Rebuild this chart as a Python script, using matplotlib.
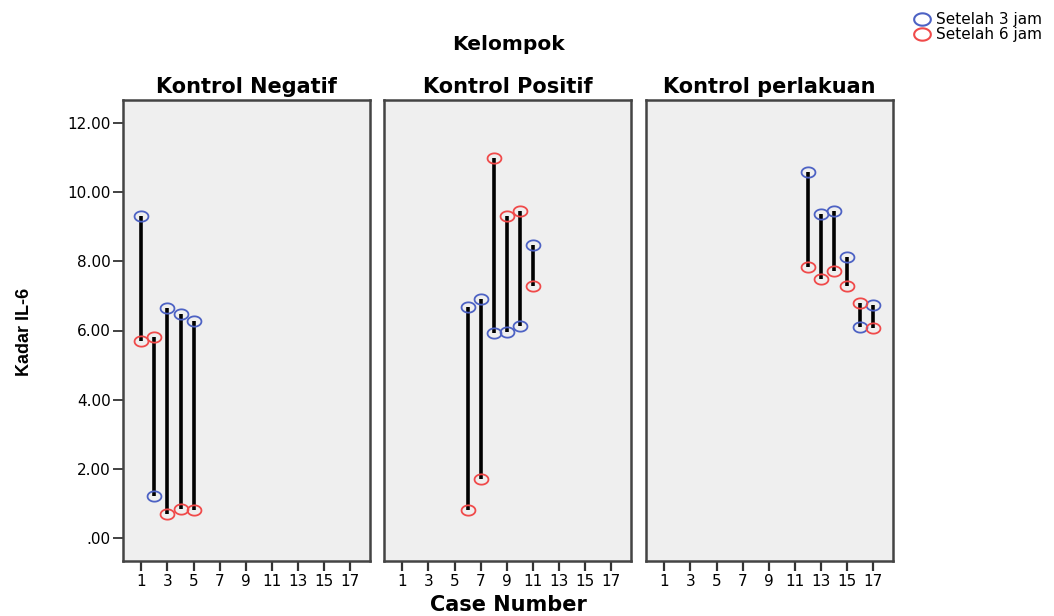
import numpy as np
import matplotlib
matplotlib.use("Agg")
import matplotlib.pyplot as plt
from matplotlib.path import Path

plt.rcParams['font.family'] = ['DejaVu Sans']

# data
groups = ['Kontrol Negatif', 'Kontrol Positif', 'Kontrol perlakuan']
cases = [[1, 2, 3, 4, 5],
         [6, 7, 8, 9, 10, 11],
         [12, 13, 14, 15, 16, 17]]
after_3h = [[9.30, 1.20, 6.66, 6.47, 6.27],
            [6.67, 6.90, 5.93, 5.95, 6.12, 8.47],
            [10.60, 9.36, 9.45, 8.12, 6.10, 6.73]]
after_6h = [[5.70, 5.80, 0.70, 0.84, 0.81],
            [0.81, 1.71, 11.00, 9.30, 9.45, 7.30],
            [7.83, 7.49, 7.72, 7.29, 6.81, 6.07]]
xticks = list(range(1, 18, 2))
yticks = [0, 2, 4, 6, 8, 10, 12]

blue = '#4d62c4'
red = '#f04a4a'

# ellipse-shaped open marker, like SPSS
t = np.linspace(0, 2 * np.pi, 60)
ell = Path(np.column_stack([1.35 * np.cos(t), np.sin(t)]), closed=True)

fig = plt.figure(figsize=(10.54, 6.16), dpi=100)
W, H = 1054, 616
lefts = [123, 384, 646]
pw = 247
top, bottom = 100, 561

for i, g in enumerate(groups):
    ax = fig.add_axes([lefts[i] / W, 1 - bottom / H, pw / W, (bottom - top) / H])
    ax.set_facecolor('#efefef')
    ax.vlines(cases[i], after_3h[i], after_6h[i], color='black', lw=2.6, zorder=2)
    ax.plot(cases[i], after_3h[i], ls='none', marker=ell, ms=10, mfc='none',
            mec=blue, mew=1.3, zorder=3)
    ax.plot(cases[i], after_6h[i], ls='none', marker=ell, ms=10, mfc='none',
            mec=red, mew=1.3, zorder=3)
    ax.set_xlim(-0.4, 18.5)
    ax.set_ylim(-0.67, 12.67)
    ax.set_xticks(xticks)
    ax.set_xticklabels([str(x) for x in xticks], fontsize=11)
    ax.tick_params(axis='x', length=7, width=1.6, color='#333333', pad=2)
    ax.set_yticks(yticks)
    if i == 0:
        ax.set_yticklabels(['.00'] + ['%.2f' % y for y in yticks[1:]], fontsize=11)
        ax.tick_params(axis='y', length=7, width=1.3, color='#333333', pad=2)
    else:
        ax.tick_params(axis='y', left=False, labelleft=False)
    for s in ax.spines.values():
        s.set_color('#444444')
        s.set_linewidth(1.8)
    ax.set_title(g, fontsize=15, fontweight='bold', pad=5)

fig.text(508 / W, 1 - 45 / H, 'Kelompok', ha='center', va='center',
         fontsize=14.5, fontweight='bold')
fig.text(508 / W, 1 - 605 / H, 'Case Number', ha='center', va='center',
         fontsize=15, fontweight='bold')
fig.text(25 / W, 1 - 332 / H, 'Kadar IL-6', ha='center', va='center',
         rotation=90, fontsize=13, fontweight='bold',
         family=['Liberation Sans Narrow', 'Liberation Sans', 'DejaVu Sans'])

# legend in the top right corner
fig.legend(handles=[
    plt.Line2D([], [], ls='none', marker=ell, ms=12, mfc='none', mec=blue, mew=1.5),
    plt.Line2D([], [], ls='none', marker=ell, ms=12, mfc='none', mec=red, mew=1.5)],
    labels=['Setelah 3 jam', 'Setelah 6 jam'],
    loc='upper right', bbox_to_anchor=(1.0, 1.0), frameon=False,
    fontsize=11, handlelength=1.0, handletextpad=0.4, labelspacing=0.0,
    borderpad=0.3)

fig.savefig('out.png', dpi=100)
